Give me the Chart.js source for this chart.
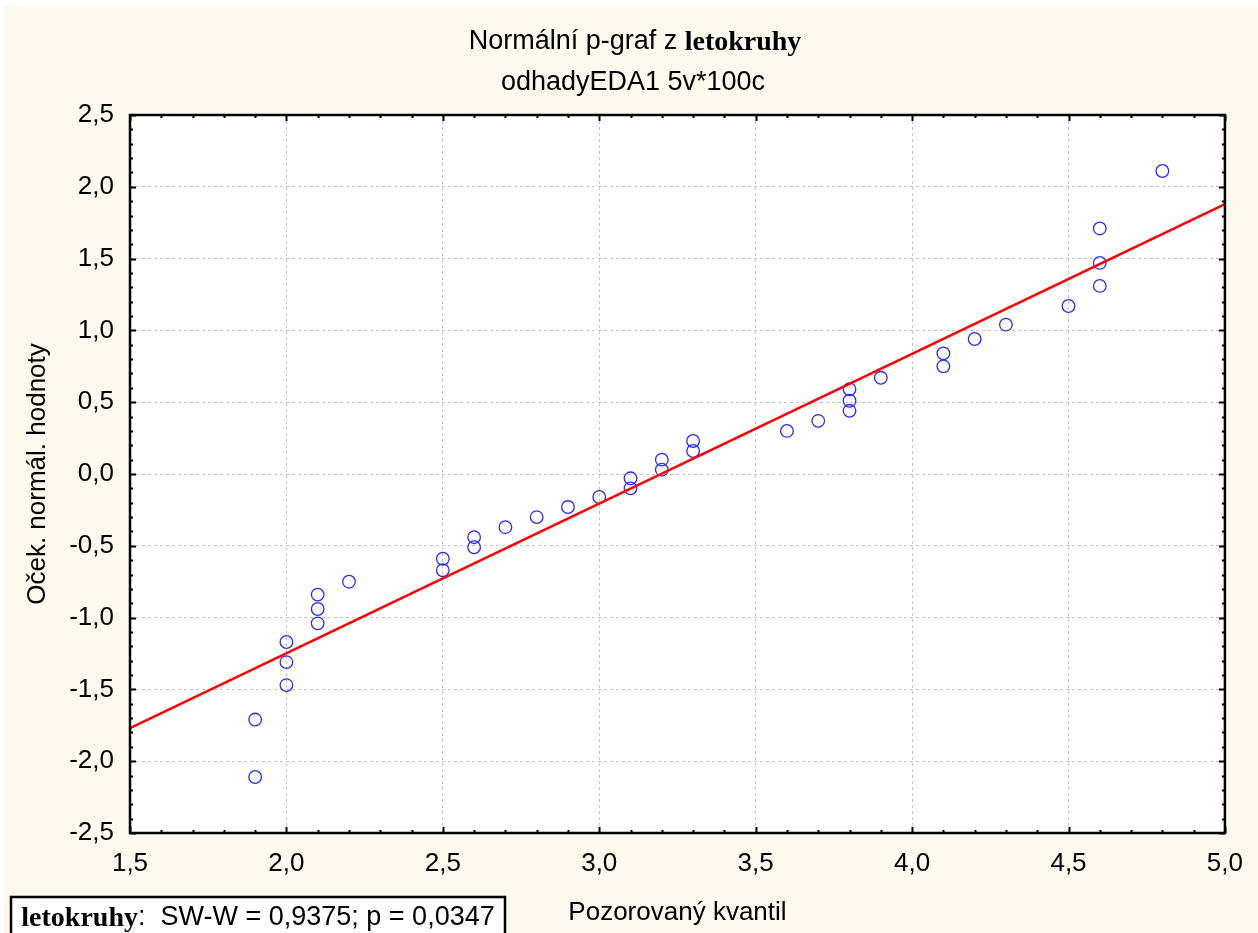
<!DOCTYPE html>
<html>
<head>
<meta charset="utf-8">
<title>Normální p-graf z letokruhy</title>
<script src="https://cdn.jsdelivr.net/npm/chart.js@4.4.1/dist/chart.umd.min.js"></script>
<style>
  html, body { margin: 0; padding: 0; background: #ffffff; }
  canvas { display: block; }
</style>
</head>
<body>
<canvas id="c" width="1258" height="933"></canvas>
<script>
// Observed quantiles (tree-ring widths), sorted
const observedQuantile = [
  1.9, 1.9, 2.0, 2.0, 2.0, 2.1, 2.1, 2.1, 2.2, 2.5,
  2.5, 2.6, 2.6, 2.7, 2.8, 2.9, 3.0, 3.1, 3.1, 3.2,
  3.2, 3.3, 3.3, 3.6, 3.7, 3.8, 3.8, 3.8, 3.9, 4.1,
  4.1, 4.2, 4.3, 4.5, 4.6, 4.6, 4.6, 4.8
];
// Expected normal values for each observation
const expectedNormal = [
  -2.11, -1.71, -1.47, -1.31, -1.17, -1.04, -0.94, -0.84, -0.75, -0.67,
  -0.59, -0.51, -0.44, -0.37, -0.30, -0.23, -0.16, -0.10, -0.03, 0.03,
   0.10,  0.16,  0.23,  0.30,  0.37,  0.44,  0.51,  0.59,  0.67,  0.75,
   0.84,  0.94,  1.04,  1.17,  1.31,  1.47,  1.71,  2.11
];
// Reference line end points
const fitLineX = [1.5, 5.0];
const fitLineY = [-1.77, 1.88];

// Axis ranges and tick steps
const xRange = [1.5, 5.0];
const yRange = [-2.5, 2.5];
const majorStep = 0.5;
const minorStep = 0.1;

const titleLine1Sans = 'Normální p-graf z ';
const titleLine1Bold = 'letokruhy';
const titleLine2 = 'odhadyEDA1 5v*100c';
const xTitle = 'Pozorovaný kvantil';
const yTitle = 'Oček. normál. hodnoty';
const statVar = 'letokruhy';
const statText = ':  SW-W = 0,9375; p = 0,0347';

const SANS = '"Liberation Sans", Arial, sans-serif';
const SERIF = '"Liberation Serif", "Times New Roman", serif';
const CREAM = '#fdf9ee';
const FS = 26;

const fmt = v => (Math.round(v * 10) / 10).toFixed(1).replace('.', ',');

const points = observedQuantile.map((x, i) => ({ x: x, y: expectedNormal[i] }));
const linePts = fitLineX.map((x, i) => ({ x: x, y: fitLineY[i] }));

// Page background, plot background, frame, inner ticks, title and stats box
const decor = {
  id: 'decor',
  beforeDraw(chart) {
    const ctx = chart.ctx;
    const a = chart.chartArea;
    ctx.save();
    ctx.fillStyle = '#ffffff';
    ctx.fillRect(0, 0, chart.width, chart.height);
    ctx.fillStyle = CREAM;
    ctx.fillRect(4, 5, chart.width - 4, chart.height - 5);
    ctx.fillStyle = '#ffffff';
    ctx.fillRect(a.left, a.top, a.right - a.left, a.bottom - a.top);
    ctx.restore();
  },
  afterDraw(chart) {
    const ctx = chart.ctx;
    const a = chart.chartArea;
    const xs = chart.scales.x, ys = chart.scales.y;
    ctx.save();
    // inward tick marks on all four sides
    ctx.strokeStyle = '#000';
    ctx.lineWidth = 2;
    const nx = Math.round((xRange[1] - xRange[0]) / minorStep);
    for (let i = 0; i <= nx; i++) {
      const v = xRange[0] + i * minorStep;
      const px = Math.round(xs.getPixelForValue(v)) + 0.5;
      const major = i % 5 === 0;
      const len = major ? 6 : 3;
      ctx.beginPath();
      ctx.moveTo(px, a.bottom); ctx.lineTo(px, a.bottom - len);
      ctx.moveTo(px, a.top); ctx.lineTo(px, a.top + len);
      ctx.stroke();
    }
    const ny = Math.round((yRange[1] - yRange[0]) / minorStep);
    for (let i = 0; i <= ny; i++) {
      const v = yRange[0] + i * minorStep;
      const py = Math.round(ys.getPixelForValue(v)) + 0.5;
      const major = i % 5 === 0;
      const len = major ? 6 : 3;
      ctx.beginPath();
      ctx.moveTo(a.left, py); ctx.lineTo(a.left + len, py);
      ctx.moveTo(a.right, py); ctx.lineTo(a.right - len, py);
      ctx.stroke();
    }
    // frame
    ctx.lineWidth = 2.5;
    ctx.strokeRect(a.left, a.top, a.right - a.left, a.bottom - a.top);

    // title, two lines, mixed fonts on the first
    ctx.fillStyle = '#000';
    ctx.textBaseline = 'middle';
    ctx.textAlign = 'left';
    const f1 = '27px ' + SANS;
    const f1b = 'bold 28px ' + SERIF;
    ctx.font = f1; const w1 = ctx.measureText(titleLine1Sans).width;
    ctx.font = f1b; const w2 = ctx.measureText(titleLine1Bold).width;
    const cx = 635;
    let x0 = cx - (w1 + w2) / 2;
    ctx.font = f1; ctx.fillText(titleLine1Sans, x0, 42);
    ctx.font = f1b; ctx.fillText(titleLine1Bold, x0 + w1, 43);
    ctx.font = f1; ctx.textAlign = 'center';
    ctx.fillText(titleLine2, 633, 83);

    // statistics box
    ctx.textAlign = 'left';
    ctx.font = f1b; const sw1 = ctx.measureText(statVar).width;
    ctx.font = f1; const sw2 = ctx.measureText(statText).width;
    const bx = 11, by = 897, bw = 494;
    ctx.fillStyle = '#ffffff';
    ctx.fillRect(bx, by, bw, chart.height - by + 4);
    ctx.lineWidth = 2.5;
    ctx.strokeStyle = '#000';
    ctx.strokeRect(bx, by, bw, chart.height - by + 4);
    ctx.fillStyle = '#000';
    const tx = bx + (bw - sw1 - sw2) / 2;
    ctx.font = f1b; ctx.fillText(statVar, tx, 919);
    ctx.font = f1; ctx.fillText(statText, tx + sw1, 918);
    ctx.restore();
  }
};

new Chart(document.getElementById('c'), {
  type: 'scatter',
  data: {
    datasets: [
      {
        label: 'data',
        data: points,
        pointStyle: 'circle',
        pointRadius: 6.3,
        pointBorderWidth: 1.3,
        pointBorderColor: '#2a2aff',
        pointBackgroundColor: 'rgba(0,0,0,0)',
        showLine: false,
        order: 2
      },
      {
        label: 'fit',
        type: 'line',
        data: linePts,
        borderColor: '#ff0000',
        borderWidth: 2.5,
        pointRadius: 0,
        fill: false,
        order: 1
      }
    ]
  },
  options: {
    responsive: false,
    animation: false,
    devicePixelRatio: 1,
    layout: { padding: { left: 0, top: 115, right: 32, bottom: 0 } },
    plugins: {
      legend: { display: false },
      tooltip: { enabled: false },
      title: { display: false }
    },
    scales: {
      x: {
        type: 'linear',
        min: xRange[0], max: xRange[1],
        afterFit: s => { s.height = 100; },
        grid: { color: '#c4c4c4', lineWidth: 1, drawTicks: false },
        border: { display: false, dash: [3, 3] },
        ticks: {
          stepSize: majorStep,
          padding: 15,
          color: '#000',
          font: { family: SANS, size: FS },
          callback: v => fmt(v),
          maxRotation: 0
        },
        title: {
          display: true, text: xTitle, color: '#000',
          font: { family: SANS, size: FS },
          padding: { top: 0, bottom: 5 }
        }
      },
      y: {
        type: 'linear',
        min: yRange[0], max: yRange[1],
        afterFit: s => { s.width = 130; },
        grid: { color: '#c4c4c4', lineWidth: 1, drawTicks: false },
        border: { display: false, dash: [3, 3] },
        ticks: {
          stepSize: majorStep,
          padding: 16,
          color: '#000',
          font: { family: SANS, size: FS },
          callback: v => fmt(v)
        },
        title: {
          display: true, text: yTitle, color: '#000',
          font: { family: SANS, size: FS },
          padding: { top: 22, bottom: 0 }
        }
      }
    }
  },
  plugins: [decor]
});
</script>
</body>
</html>
